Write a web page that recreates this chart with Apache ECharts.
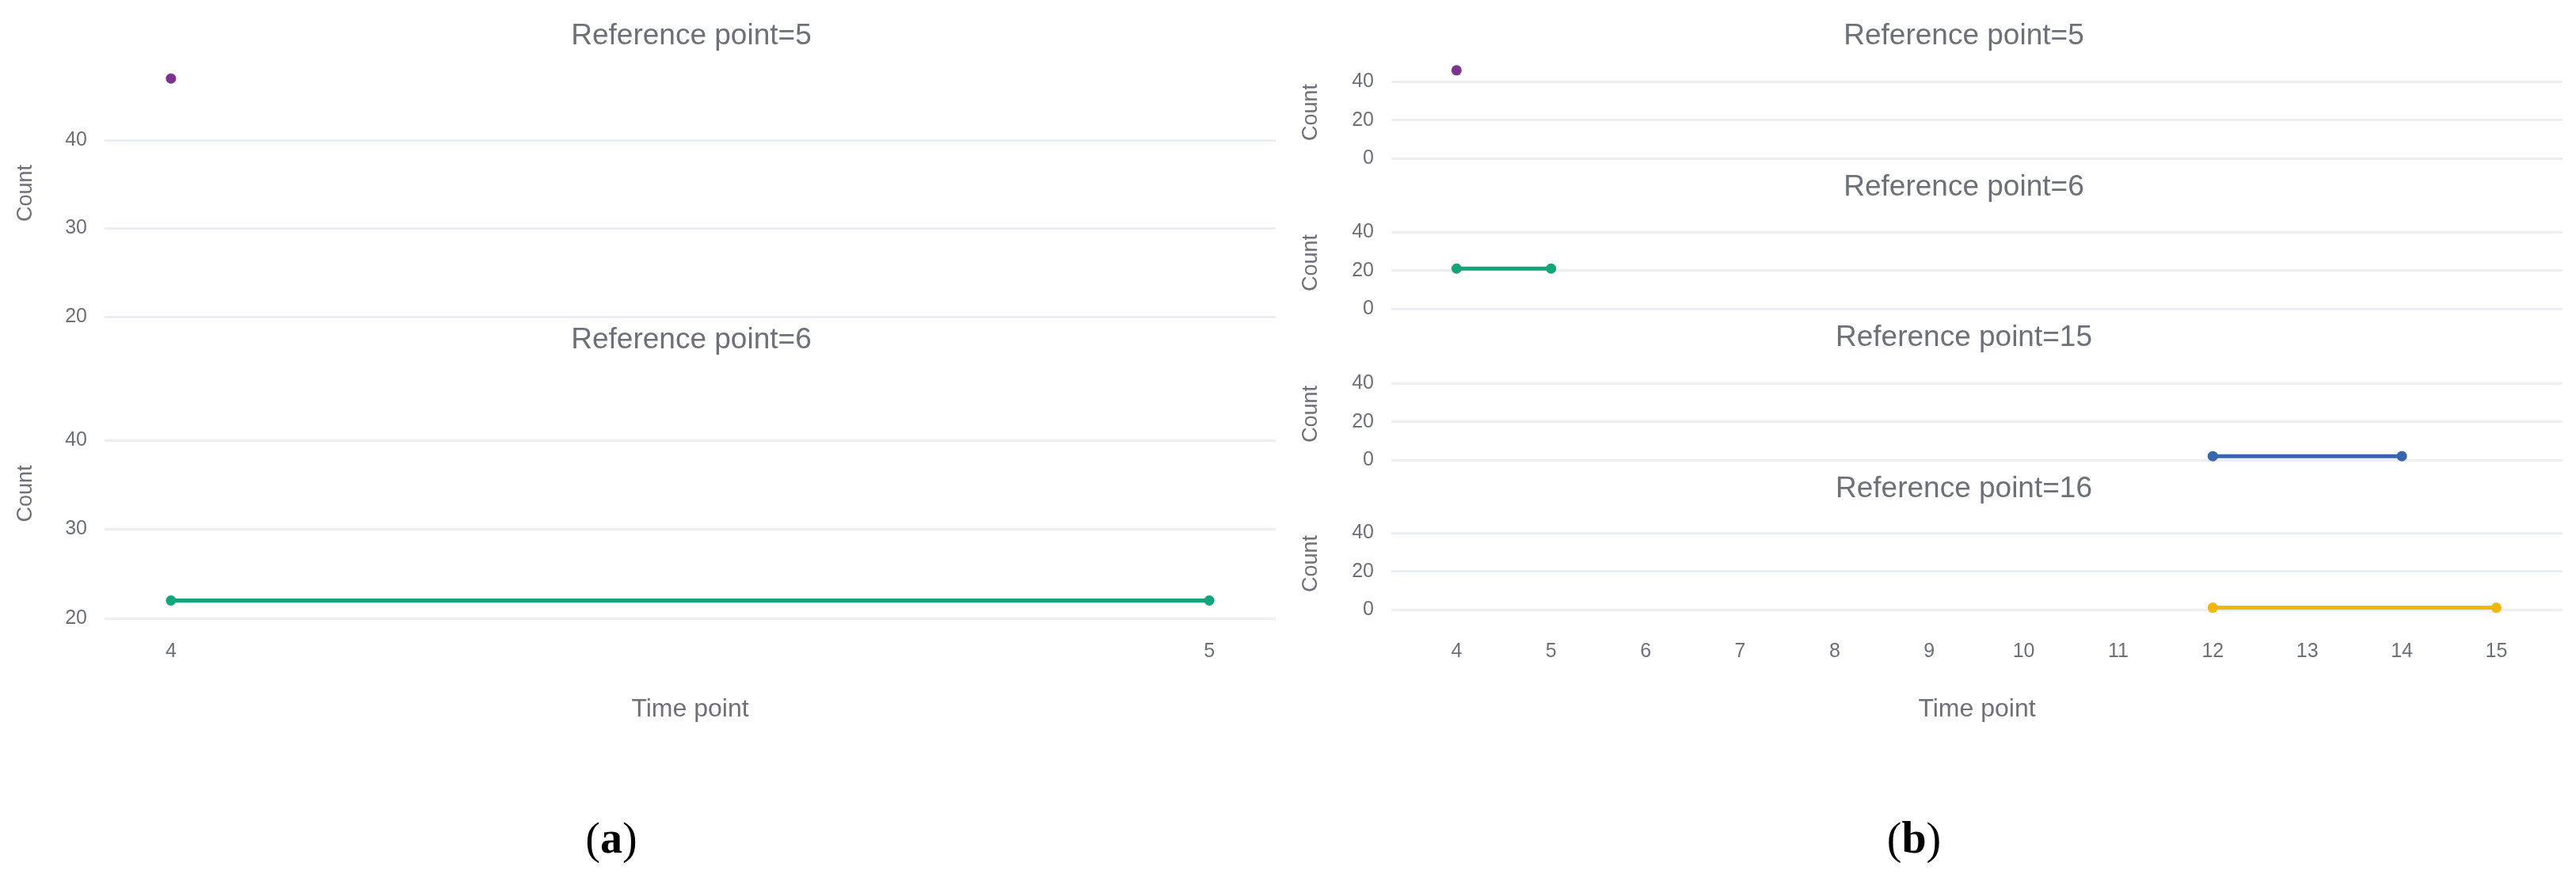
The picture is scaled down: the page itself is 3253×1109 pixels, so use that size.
<!DOCTYPE html>
<html>
<head>
<meta charset="utf-8">
<script src="https://cdn.jsdelivr.net/npm/echarts@6/dist/echarts.min.js"></script>
<style>
  html, body { margin: 0; padding: 0; background: #fff; }
  #main { width: 3253px; height: 1109px; }
</style>
</head>
<body>
<div id="main"></div>
<script>
// panel (a): reference points 5 and 6
var aTime5 = [4];
var aCount5 = [47];
var aTime6 = [4, 5];
var aCount6 = [22, 22];
var aTicksX = [4, 5];

// panel (b): reference points 5, 6, 15, 16
var bTime5 = [4];
var bCount5 = [46];
var bTime6 = [4, 5];
var bCount6 = [21, 21];
var bTime15 = [12, 14];
var bCount15 = [2, 2];
var bTime16 = [12, 15];
var bCount16 = [1, 1];
var bTicksX = [4, 5, 6, 7, 8, 9, 10, 11, 12, 13, 14, 15];

var titles = ['Reference point=5', 'Reference point=6', 'Reference point=15', 'Reference point=16'];

var textColor = '#6e7079';
var font = '"Liberation Sans", Arial, sans-serif';

var pairs = function(xs, ys) {
    return xs.map(function(x, i) { return [x, ys[i]]; });
};

var echartPanels = function() {
    var chart = echarts.init(document.getElementById('main'));

    var grids = [
        { left: 132, width: 1479, top: 88, height: 312 },
        { left: 132, width: 1479, top: 466, height: 315 },
        { left: 1757, width: 1479, top: 84, height: 116 },
        { left: 1757, width: 1479, top: 274, height: 116 },
        { left: 1757, width: 1479, top: 465, height: 116 },
        { left: 1757, width: 1479, top: 654, height: 116 }
    ];

    var xAxis = [];
    var yAxis = [];
    grids.forEach(function(g, i) {
        var isA = i < 2;
        var isBottom = i === 1 || i === 5;
        xAxis.push({
            type: 'value',
            gridIndex: i,
            min: isA ? 3.936 : 3.31,
            max: isA ? 5.064 : 15.7,
            axisLine: { show: false },
            axisTick: { show: false },
            splitLine: { show: false },
            axisLabel: {
                show: isBottom,
                customValues: isA ? aTicksX : bTicksX,
                color: textColor,
                fontFamily: font,
                fontSize: 25,
                margin: isA ? 30 : 41
            },
            name: isBottom ? 'Time point' : '',
            nameLocation: 'middle',
            nameGap: isA ? 99 : 110,
            nameTextStyle: { color: textColor, fontFamily: font, fontSize: 32 }
        });
        yAxis.push({
            type: 'value',
            gridIndex: i,
            min: isA ? 20 : 0,
            max: 48,
            interval: isA ? 10 : 20,
            axisLine: { show: false },
            axisTick: { show: false },
            splitLine: {
                show: true,
                showMaxLine: false,
                lineStyle: { color: '#eceef3', width: 3 }
            },
            axisLabel: {
                showMaxLabel: false,
                color: textColor,
                fontFamily: font,
                fontSize: 25,
                margin: 22
            },
            name: 'Count',
            nameLocation: 'middle',
            nameGap: isA ? 86 : 88,
            nameTextStyle: { color: textColor, fontFamily: font, fontSize: 27 }
        });
    });

    var mkSeries = function(idx, data, color) {
        return {
            type: 'line',
            xAxisIndex: idx,
            yAxisIndex: idx,
            data: data,
            symbol: 'circle',
            symbolSize: 13,
            clip: false,
            lineStyle: { color: color, width: 5 },
            itemStyle: { color: color }
        };
    };

    var purple = '#7d3391';
    var green = '#12a57a';
    var blue = '#3566ae';
    var yellow = '#f1b607';

    var titleText = function(text, x, y) {
        return {
            type: 'text',
            style: {
                text: text, x: x, y: y,
                textAlign: 'center', textVerticalAlign: 'middle',
                fill: textColor, font: '37px ' + font
            }
        };
    };

    var captionText = function(letter, x) {
        return {
            type: 'text',
            style: {
                text: '({b|' + letter + '})', x: x, y: 1063,
                textAlign: 'center', textVerticalAlign: 'middle',
                fill: '#000', font: '56px "Liberation Serif", "Times New Roman", serif',
                rich: { b: { fontWeight: 'bold', fontSize: 56, fontFamily: '"Liberation Serif", serif', fill: '#000' } }
            }
        };
    };

    var option = {
        animation: false,
        grid: grids,
        xAxis: xAxis,
        yAxis: yAxis,
        series: [
            mkSeries(0, pairs(aTime5, aCount5), purple),
            mkSeries(1, pairs(aTime6, aCount6), green),
            mkSeries(2, pairs(bTime5, bCount5), purple),
            mkSeries(3, pairs(bTime6, bCount6), green),
            mkSeries(4, pairs(bTime15, bCount15), blue),
            mkSeries(5, pairs(bTime16, bCount16), yellow)
        ],
        graphic: [
            titleText(titles[0], 873, 46),
            titleText(titles[1], 873, 430),
            titleText(titles[0], 2480, 46),
            titleText(titles[1], 2480, 237),
            titleText(titles[2], 2480, 427),
            titleText(titles[3], 2480, 618),
            captionText('a', 772),
            captionText('b', 2417)
        ]
    };

    chart.setOption(option);
}();
</script>
</body>
</html>
